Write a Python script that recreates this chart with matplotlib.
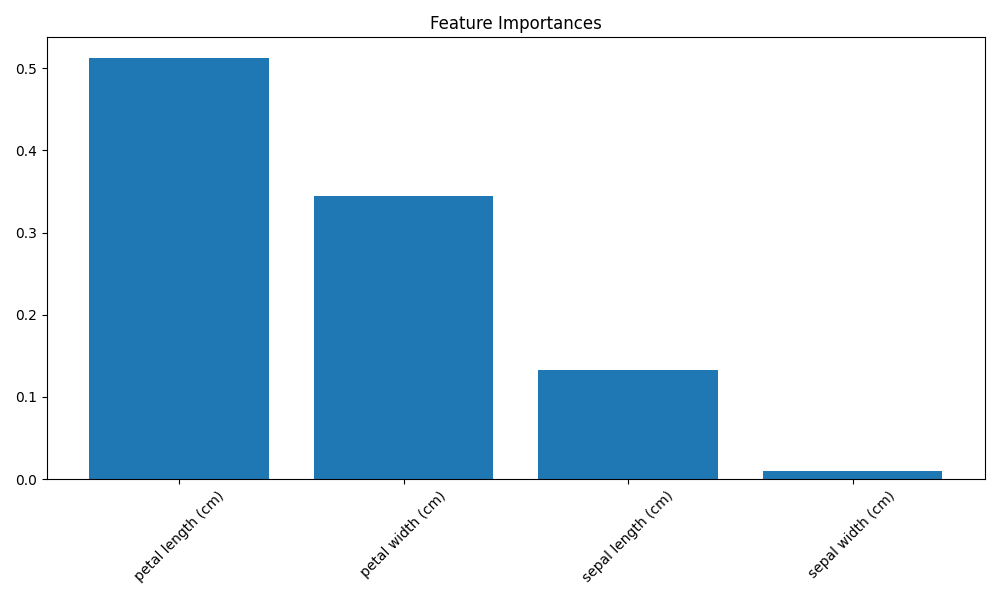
import matplotlib
matplotlib.use("Agg")
import matplotlib.pyplot as plt

features = ['petal length (cm)', 'petal width (cm)', 'sepal length (cm)', 'sepal width (cm)']
importances = [0.512, 0.344, 0.133, 0.0098]

plt.figure(figsize=(10, 6))
plt.title('Feature Importances')
plt.bar(range(len(features)), importances, align='center')
plt.xticks(range(len(features)), features, rotation=45)
plt.tight_layout()
plt.savefig('out.png', dpi=100)
